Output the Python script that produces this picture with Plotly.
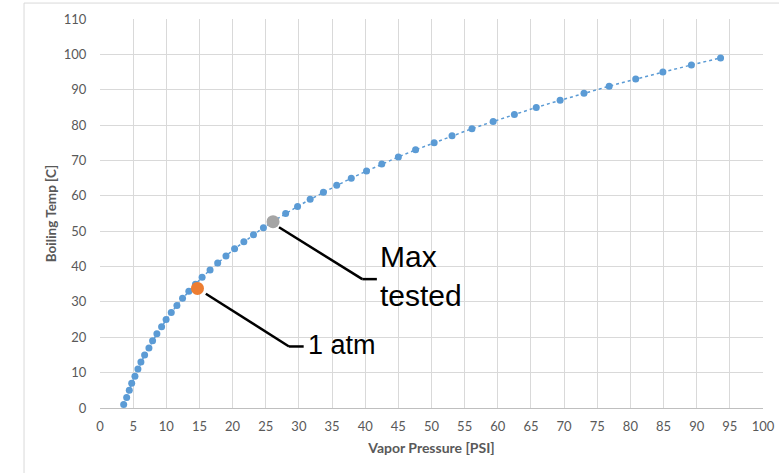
import plotly.graph_objects as go

# ---- data ----
boiling_temp_c = [1, 3, 5, 7, 9, 11, 13, 15, 17, 19, 21, 23, 25, 27, 29, 31, 33, 35, 37, 39,
                  41, 43, 45, 47, 49, 51, 53, 55, 57, 59, 61, 63, 65, 67, 69, 71, 73, 75, 77, 79,
                  81, 83, 85, 87, 89, 91, 93, 95, 97, 99]
vapor_pressure_psi = [3.57, 4.02, 4.42, 4.78, 5.27, 5.72, 6.17, 6.73, 7.38, 7.93, 8.58, 9.29, 9.97, 10.75,
                      11.6, 12.45, 13.4, 14.4, 15.4, 16.6, 17.75, 19.0, 20.3, 21.7, 23.15, 24.65, 26.3,
                      28.0, 29.8, 31.7, 33.7, 35.7, 37.9, 40.2, 42.5, 45.0, 47.6, 50.4, 53.1, 56.1,
                      59.3, 62.5, 65.8, 69.4, 73.0, 76.8, 80.8, 84.9, 89.2, 93.6]

one_atm_psi = [14.7]
one_atm_temp = [33.8]
max_tested_psi = [26.1]
max_tested_temp = [52.7]

x_ticks = list(range(0, 101, 5))
y_ticks = list(range(0, 111, 10))

label_max = "Max<br>tested"
label_atm = "1 atm"

# ---- styling ----
BLUE = "#5B9BD5"
ORANGE = "#ED7D31"
GRAY = "#A5A5A5"
TXT = "#595959"
GRID = "#D9D9D9"

fig = go.Figure()
fig.add_trace(go.Scatter(
    x=vapor_pressure_psi, y=boiling_temp_c, mode="lines+markers",
    line=dict(color=BLUE, width=1.5, dash="dot"),
    marker=dict(color=BLUE, size=7),
    showlegend=False, hoverinfo="x+y"))
fig.add_trace(go.Scatter(
    x=one_atm_psi, y=one_atm_temp, mode="markers",
    marker=dict(color=ORANGE, size=13), showlegend=False))
fig.add_trace(go.Scatter(
    x=max_tested_psi, y=max_tested_temp, mode="markers",
    marker=dict(color=GRAY, size=13), showlegend=False))

# connector lines (leader lines)
def seg(x0, y0, x1, y1):
    return dict(type="line", xref="x", yref="y", x0=x0, y0=y0, x1=x1, y1=y1,
                line=dict(color="black", width=2.5), layer="above")

shapes = [
    seg(27.0, 51.1, 39.56, 36.44),
    seg(39.56, 36.44, 41.76, 36.44),
    seg(15.96, 32.29, 28.51, 17.40),
    seg(28.51, 17.40, 30.72, 17.40),
    # outer chart border
    dict(type="rect", xref="paper", yref="paper", x0=-0.1146, y0=-1, x1=2, y1=1.041,
         line=dict(color=GRID, width=1), layer="below"),
]

annotations = [
    dict(x=41.9, y=37.2, xref="x", yref="y", text=label_max, showarrow=False,
         xanchor="left", yanchor="middle", align="left",
         font=dict(family="Liberation Sans, Arial", size=30, color="black")),
    dict(x=31.1, y=17.9, xref="x", yref="y", text=label_atm, showarrow=False,
         xanchor="left", yanchor="middle", align="left",
         font=dict(family="Liberation Sans, Arial", size=27, color="black")),
]

fig.update_layout(
    width=779, height=473,
    margin=dict(l=100, r=16, t=19, b=65, autoexpand=False),
    paper_bgcolor="white", plot_bgcolor="white",
    shapes=shapes, annotations=annotations,
    font=dict(family="Lato, sans-serif", size=13, color=TXT),
)
fig.update_xaxes(
    range=[0, 100], tickvals=x_ticks, ticktext=[str(v) for v in x_ticks],
    automargin=False,
    showgrid=True, gridcolor=GRID, gridwidth=1,
    zeroline=False, showline=True, linecolor="#BFBFBF", linewidth=1,
    ticks="outside", ticklen=6, tickcolor="rgba(0,0,0,0)",
    tickfont=dict(family="Lato, sans-serif", size=13, color=TXT),
    title=dict(text="<b>Vapor Pressure [PSI]</b>", standoff=10,
               font=dict(family="Lato, sans-serif", size=14, color=TXT)),
)
fig.update_yaxes(
    range=[0, 110], tickvals=y_ticks, ticktext=[str(v) for v in y_ticks],
    automargin=False,
    showgrid=True, gridcolor=GRID, gridwidth=1,
    zeroline=False, showline=False,
    ticks="outside", ticklen=10, tickcolor="rgba(0,0,0,0)",
    tickfont=dict(family="Lato, sans-serif", size=13, color=TXT),
    title=dict(text="<b>Boiling Temp [C]</b>", standoff=4,
               font=dict(family="Lato, sans-serif", size=13.5, color=TXT)),
)

fig.write_html("out.html")
